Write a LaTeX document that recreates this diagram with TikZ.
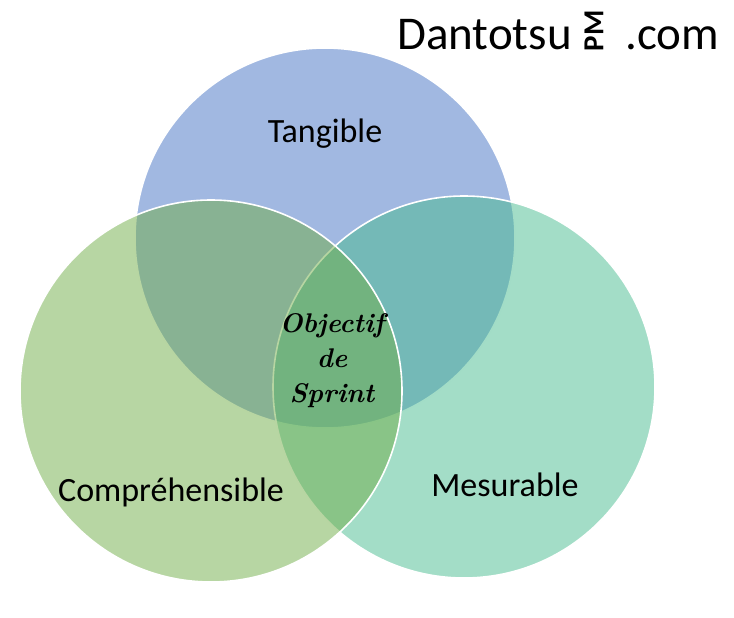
\documentclass[tikz,border=0pt]{standalone}
\usepackage{fontspec}
\setmainfont{Carlito}
\newfontfamily\goalfont{Latin Modern Roman}
\usetikzlibrary{positioning}
\definecolor{tangblue}{HTML}{4472C4}
\definecolor{mesteal}{HTML}{47BB8F}
\definecolor{compgreen}{HTML}{70AD47}

\begin{document}
\begin{tikzpicture}[x=1pt, y=-1pt,
		venn/.style={fill opacity=0.5, draw=white, line width=1.6pt},
		setname/.style={font=\fontsize{34}{36}\selectfont, text=black},
		goal/.style={font=\goalfont\bfseries\itshape\fontsize{27}{35}\selectfont, text=black, align=center},
		logo/.style={font=\fontsize{47}{50}\selectfont, text=black, inner sep=0pt, anchor=base west}]
		%%%%% START %%%%%
		
		\useasboundingbox (0, 0) rectangle (734, 618);
		
		\draw[venn, fill=tangblue] (325, 238) circle (190);
		\draw[venn, fill=mesteal] (464, 387) circle (191);
		\draw[venn, fill=compgreen] (211, 391) circle (191);
		
		\node[setname] (tangible) at (325, 134) {Tangible};
		\node[setname] (comprehensible) at (171, 492) {Compréhensible};
		\node[setname] (mesurable) at (505, 485) {Mesurable};
		
		\node[goal] (objectif) at (332, 361) {Objectif\\de\\Sprint};
		
		\node[logo] (dantotsu) at (397, 50) {Dantotsu};
		\node[font=\bfseries\fontsize{29}{30}\selectfont, rotate=90, inner sep=0pt] (pm) at (594, 31) {PM};
		\node[logo] (dotcom) at (625, 50) {.com};
		
		%%%%% END %%%%%
\end{tikzpicture}
\end{document}
